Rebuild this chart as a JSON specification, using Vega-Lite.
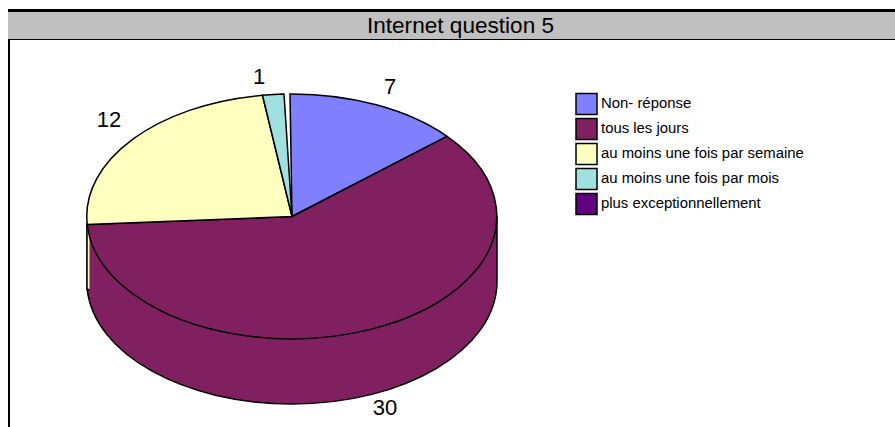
{
  "$schema": "https://vega.github.io/schema/vega-lite/v6.json",
  "width": 895,
  "height": 427,
  "padding": 0,
  "autosize": {"type": "none"},
  "background": "white",
  "data": {
    "values": [
      {"slice": "Non- réponse", "value": 7},
      {"slice": "tous les jours", "value": 30},
      {"slice": "au moins une fois par semaine", "value": 12},
      {"slice": "au moins une fois par mois", "value": 1},
      {"slice": "plus exceptionnellement", "value": 0}
    ]
  },
  "config": {
    "view": {"stroke": null},
    "text": {"font": "Liberation Sans", "color": "black"}
  },
  "resolve": {"scale": {"shape": "independent"}},
  "layer": [
    {
      "data": {"values": [{"part": "frame"}]},
      "mark": {"type": "rect", "fill": "black"},
      "encoding": {"x": {"value": 8}, "x2": {"value": 895}, "y": {"value": 9}, "y2": {"value": 427}}
    },
    {
      "data": {"values": [{"part": "plot"}]},
      "mark": {"type": "rect", "fill": "white"},
      "encoding": {"x": {"value": 10}, "x2": {"value": 895}, "y": {"value": 40}, "y2": {"value": 427}}
    },
    {
      "data": {"values": [{"part": "band"}]},
      "mark": {"type": "rect", "fill": "#c0c0c0"},
      "encoding": {"x": {"value": 8}, "x2": {"value": 895}, "y": {"value": 12}, "y2": {"value": 39}}
    },
    {
      "data": {"values": [{"part": "title"}]},
      "mark": {"type": "text", "text": "Internet question 5", "fontSize": 22.6, "align": "center", "baseline": "middle"},
      "encoding": {"x": {"value": 460.5}, "y": {"value": 26}}
    },
    {
      "transform": [{"filter": "datum.value >= 12"}],
      "mark": {"type": "point", "filled": true, "opacity": 1, "size": 4, "stroke": "black", "strokeWidth": 1.5},
      "encoding": {
        "x": {"value": 292},
        "y": {"value": 216.5},
        "fill": {
          "field": "slice",
          "type": "nominal",
          "sort": null,
          "scale": {
            "domain": ["Non- réponse", "tous les jours", "au moins une fois par semaine", "au moins une fois par mois", "plus exceptionnellement"],
            "range": ["#8080ff", "#802060", "#ffffc0", "#a0e0e0", "#600080"]
          },
          "legend": {
            "title": null,
            "orient": "none",
            "legendX": 575,
            "legendY": 92.5,
            "padding": 0,
            "symbolType": "square",
            "symbolSize": 441,
            "symbolStrokeColor": "#222222",
            "symbolStrokeWidth": 1.5,
            "symbolOpacity": 1,
            "rowPadding": -2.7,
            "labelFont": "Liberation Sans",
            "labelFontSize": 14.9,
            "labelColor": "black",
            "labelOffset": 3,
            "labelLimit": 300
          }
        },
        "shape": {
          "field": "slice",
          "type": "nominal",
          "legend": null,
          "scale": {
            "domain": ["tous les jours", "au moins une fois par semaine"],
            "range": [
              "M205 0 L205 65 A205 122.5 0 0 1 0 187.5 A205 122.5 0 0 1 -204.8 73 L-204.8 8 Z",
              "M-202.5 8 L-205 8 L-205 73 L-202.5 73"
            ]
          }
        },
        "order": {"field": "value", "sort": "descending"}
      }
    },
    {
      "transform": [{"filter": "datum.value > 0"}],
      "mark": {"type": "point", "filled": true, "opacity": 1, "size": 4, "stroke": "black", "strokeWidth": 1.5},
      "encoding": {
        "x": {"value": 292},
        "y": {"value": 216.5},
        "fill": {"field": "slice", "type": "nominal", "sort": null},
        "shape": {
          "field": "slice",
          "type": "nominal",
          "legend": null,
          "scale": {
            "domain": ["Non- réponse", "tous les jours", "au moins une fois par semaine", "au moins une fois par mois"],
            "range": [
              "M0 0 L-2 -122.5 A205 122.5 0 0 1 155 -80.2 Z",
              "M0 0 L155 -80.2 A205 122.5 0 1 1 -204.8 8 Z",
              "M0 0 L-204.8 8 A205 122.5 0 0 1 -29.5 -121.2 Z",
              "M0 0 L-29.5 -121.2 A205 122.5 0 0 1 -8 -122.4 Z"
            ]
          }
        }
      }
    },
    {
      "transform": [{"filter": "datum.value == 7"}],
      "mark": {"type": "text", "fontSize": 22},
      "encoding": {"x": {"value": 390}, "y": {"value": 87}, "text": {"field": "value", "type": "quantitative"}}
    },
    {
      "transform": [{"filter": "datum.value == 30"}],
      "mark": {"type": "text", "fontSize": 22},
      "encoding": {"x": {"value": 385}, "y": {"value": 408}, "text": {"field": "value", "type": "quantitative"}}
    },
    {
      "transform": [{"filter": "datum.value == 12"}],
      "mark": {"type": "text", "fontSize": 22},
      "encoding": {"x": {"value": 109}, "y": {"value": 120}, "text": {"field": "value", "type": "quantitative"}}
    },
    {
      "transform": [{"filter": "datum.value == 1"}],
      "mark": {"type": "text", "fontSize": 22},
      "encoding": {"x": {"value": 259}, "y": {"value": 77}, "text": {"field": "value", "type": "quantitative"}}
    }
  ]
}
